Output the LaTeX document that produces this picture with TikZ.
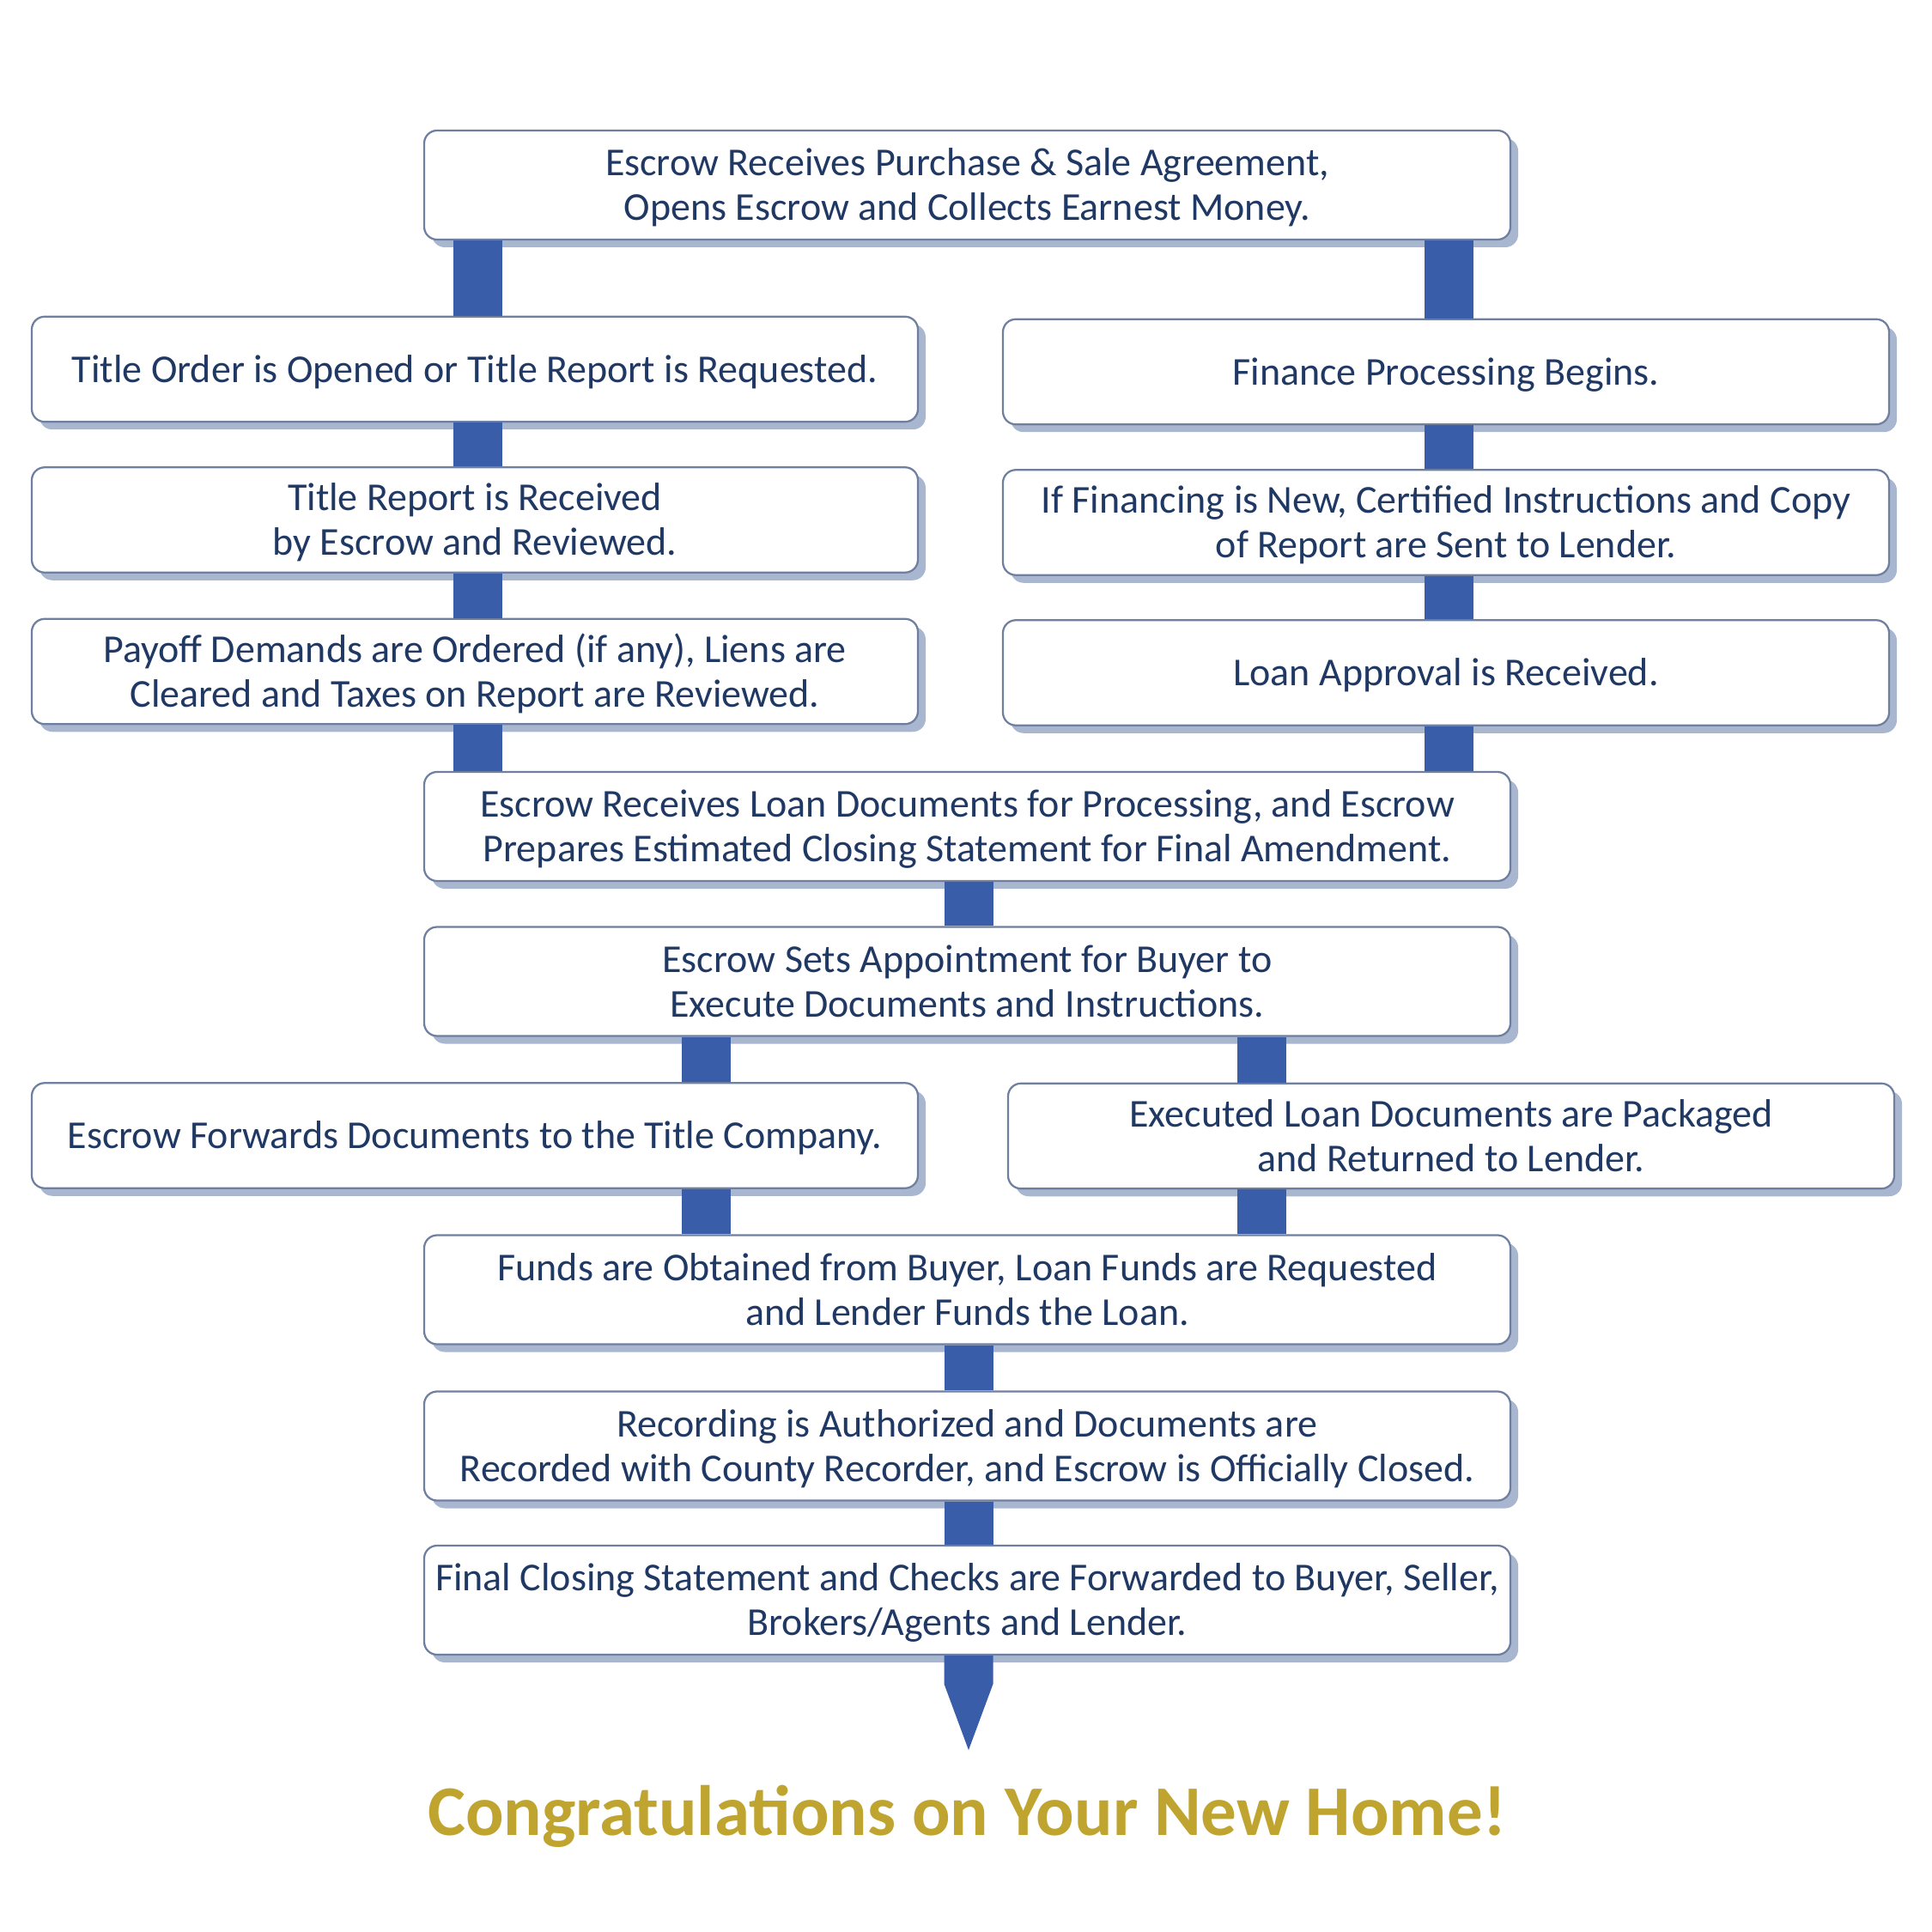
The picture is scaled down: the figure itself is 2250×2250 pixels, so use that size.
\documentclass[tikz,border=0pt]{standalone}
\usepackage{fontspec}
\setmainfont{Carlito}
\usetikzlibrary{shadows}
\definecolor{txt}{HTML}{1F3864}
\definecolor{conn}{HTML}{3A5DA9}
\definecolor{bord}{HTML}{6E7FA0}
\definecolor{shad}{HTML}{A8B6CF}
\definecolor{gold}{HTML}{BFA42F}
\newcommand\boxtext[1]{\raisebox{-1pt}[\height][\depth]{\begin{tabular}{@{}c@{}}#1\end{tabular}}}
\begin{document}
\begin{tikzpicture}[x=0.2pt,y=-0.2pt,
 box/.style={draw=bord, line width=0.45pt, fill=white, rounded corners=3pt, text=txt,
   font=\fontsize{9.2}{10.4}\selectfont, inner sep=0pt,
   drop shadow={fill=shad, opacity=1, shadow xshift=1.8pt, shadow yshift=-1.8pt}},
 wide/.style={box, minimum width=253pt, minimum height=25.4pt},
 side/.style={box, minimum width=206.4pt, minimum height=24.5pt},
 link/.style={draw=conn, line width=11.4pt}]
\useasboundingbox (0,0) rectangle (2250,2250);
\coordinate (xL) at (556,0);
\coordinate (xR) at (1687,0);
\coordinate (xC) at (1128,0);
\coordinate (xA) at (822,0);
\coordinate (xB) at (1469,0);

\node[wide] (b1) at (1126.5,215.5) {\boxtext{Escrow Receives Purchase \& Sale Agreement,\\Opens Escrow and Collects Earnest Money.}};
\node[side] (l1) at (553,430) {\boxtext{Title Order is Opened or Title Report is Requested.}};
\node[side] (r1) at (1684,433) {\boxtext{Finance Processing Begins.}};
\node[side] (l2) at (553,605.5) {\boxtext{Title Report is Received\\by Escrow and Reviewed.}};
\node[side] (r2) at (1684,608.5) {\boxtext{If Financing is New, Certified Instructions and Copy\\of Report are Sent to Lender.}};
\node[side] (l3) at (553,782) {\boxtext{Payoff Demands are Ordered (if any), Liens are\\Cleared and Taxes on Report are Reviewed.}};
\node[side] (r3) at (1684,783.5) {\boxtext{Loan Approval is Received.}};
\node[wide] (b4) at (1126.5,962.5) {\boxtext{Escrow Receives Loan Documents for Processing, and Escrow\\Prepares Estimated Closing Statement for Final Amendment.}};
\node[wide] (b5) at (1126.5,1143) {\boxtext{Escrow Sets Appointment for Buyer to\\Execute Documents and Instructions.}};
\node[side] (l6) at (553,1322.5) {\boxtext{Escrow Forwards Documents to the Title Company.}};
\node[side] (r6) at (1690,1323) {\boxtext{Executed Loan Documents are Packaged\\and Returned to Lender.}};
\node[wide] (b7) at (1126.5,1502) {\boxtext{Funds are Obtained from Buyer, Loan Funds are Requested\\and Lender Funds the Loan.}};
\node[wide] (b8) at (1126.5,1684) {\boxtext{Recording is Authorized and Documents are\\Recorded with County Recorder, and Escrow is Officially Closed.}};
\node[wide] (b9) at (1126.5,1863.5) {\boxtext{Final Closing Statement and Checks are Forwarded to Buyer, Seller,\\Brokers/Agents and Lender.}};

\draw[link] (b1.south -| xL) -- (l1.north -| xL);
\draw[link] (b1.south -| xR) -- (r1.north -| xR);
\draw[link] (l1.south -| xL) -- (l2.north -| xL);
\draw[link] (l2.south -| xL) -- (l3.north -| xL);
\draw[link] (r1.south -| xR) -- (r2.north -| xR);
\draw[link] (r2.south -| xR) -- (r3.north -| xR);
\draw[link] (l3.south -| xL) -- (b4.north -| xL);
\draw[link] (r3.south -| xR) -- (b4.north -| xR);
\draw[link] (b4.south -| xC) -- (b5.north -| xC);
\draw[link] (b5.south -| xA) -- (l6.north -| xA);
\draw[link] (b5.south -| xB) -- (r6.north -| xB);
\draw[link] (l6.south -| xA) -- (b7.north -| xA);
\draw[link] (r6.south -| xB) -- (b7.north -| xB);
\draw[link] (b7.south -| xC) -- (b8.north -| xC);
\draw[link] (b8.south -| xC) -- (b9.north -| xC);
\coordinate (a0) at (b9.south -| xC);
\fill[conn] ([xshift=-5.7pt]a0) -- ++(0,33) -- ++(28.5,77) -- ++(28.5,-77) -- ++(0,-33) -- cycle;

\node[font=\fontsize{16.6}{20}\selectfont\bfseries, text=gold, anchor=base] (congr) at (1126,2137) {Congratulations on Your New Home!};
\end{tikzpicture}
\end{document}
